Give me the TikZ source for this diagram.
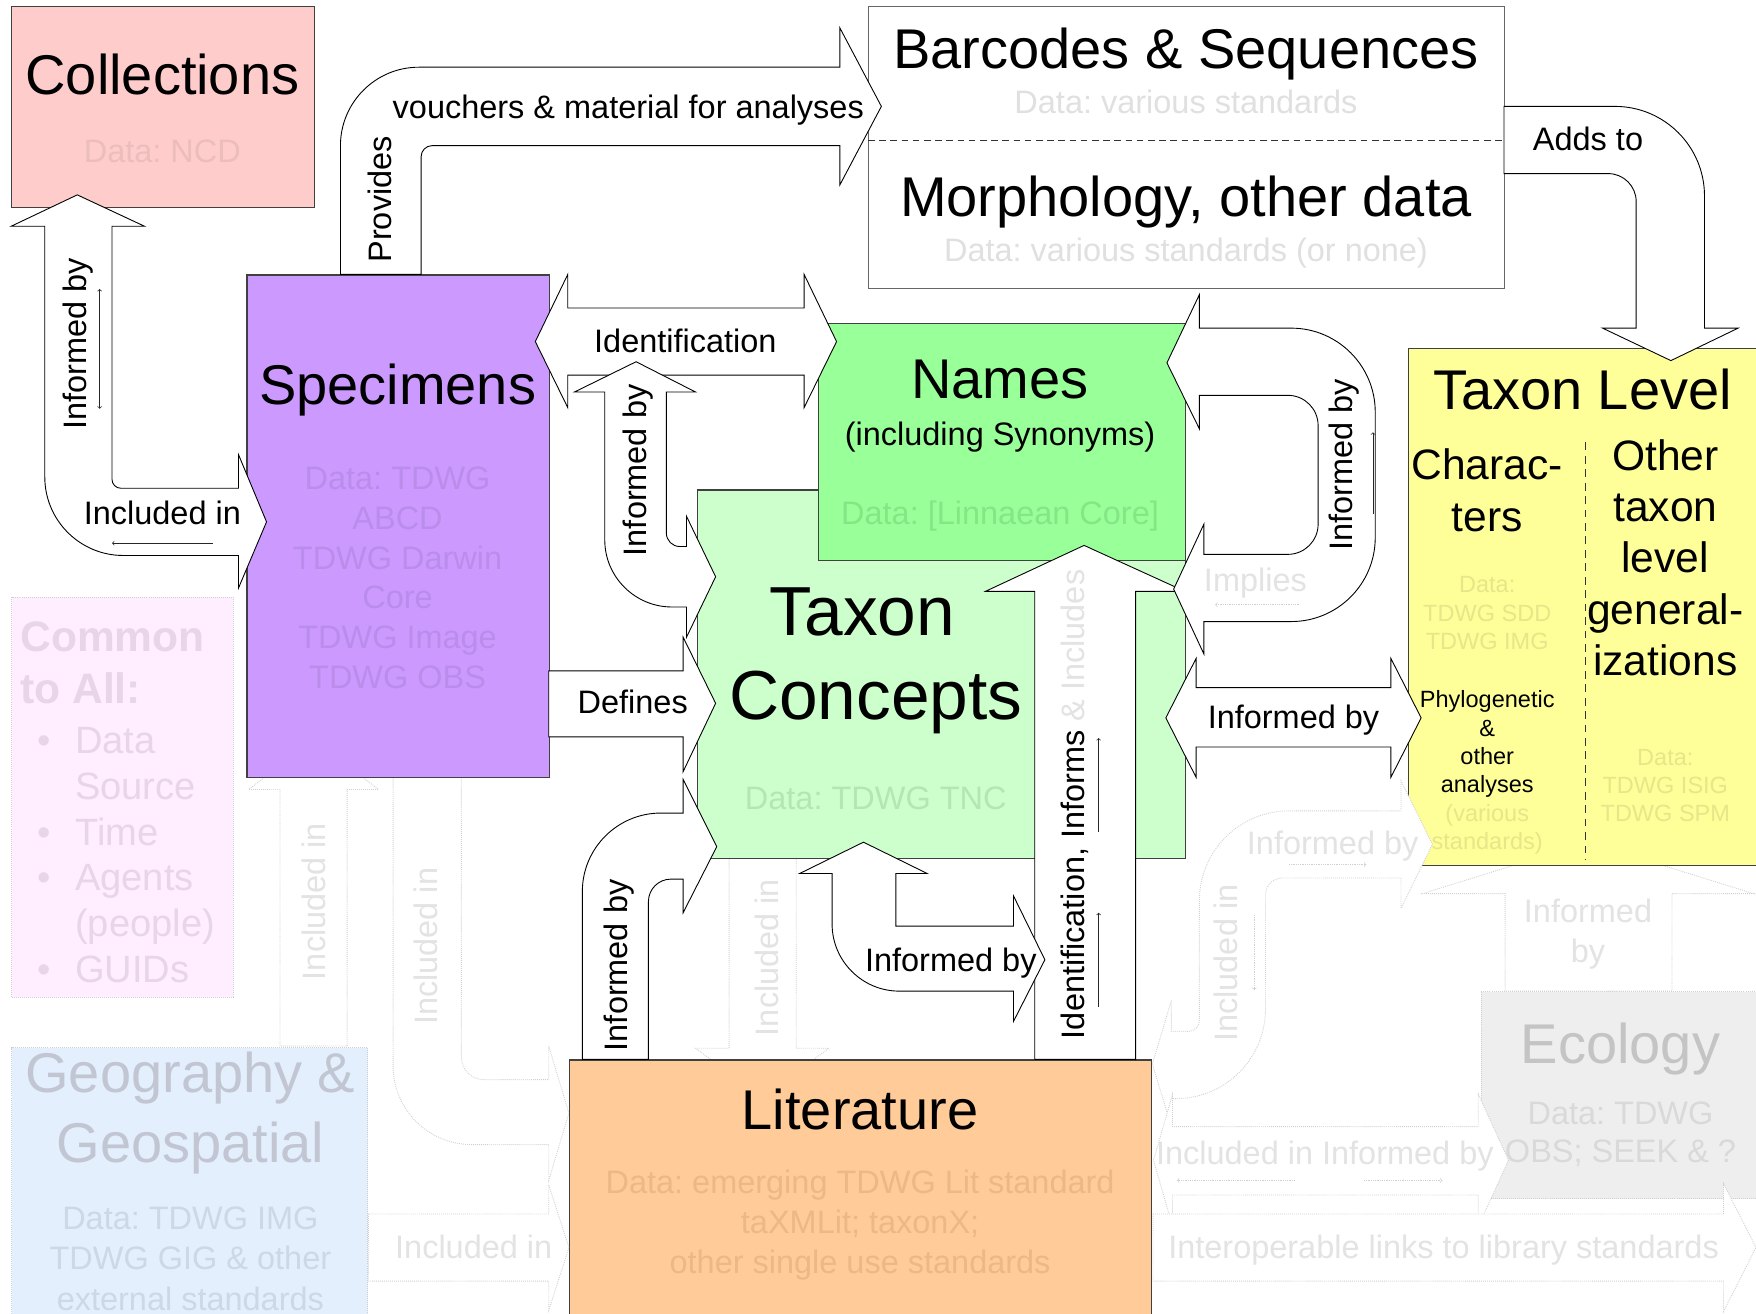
\documentclass[tikz,border=0pt]{standalone}
\usepackage{fontspec}
\setmainfont{Liberation Sans}
\usetikzlibrary{positioning}
\frenchspacing
\definecolor{collfill}{HTML}{FFCCCC}
\definecolor{colldata}{HTML}{EBBDBD}
\definecolor{specfill}{HTML}{CC99FF}
\definecolor{specdata}{HTML}{BB8DEB}
\definecolor{namesfill}{HTML}{99FF99}
\definecolor{namesdata}{HTML}{85E685}
\definecolor{conceptfill}{HTML}{CCFFCC}
\definecolor{conceptdata}{HTML}{B3E6B3}
\definecolor{levelfill}{HTML}{FFFF99}
\definecolor{leveldata}{HTML}{E6E68A}
\definecolor{litfill}{HTML}{FFCC99}
\definecolor{litdata}{HTML}{EBB886}
\definecolor{plaindata}{HTML}{E0E0E0}
\definecolor{commonfill}{HTML}{FFEEFF}
\definecolor{commontext}{HTML}{E8D5E8}
\definecolor{geofill}{HTML}{E3EFFD}
\definecolor{geotitle}{HTML}{C2C6D2}
\definecolor{geodata}{HTML}{CDD8E6}
\definecolor{ecofill}{HTML}{EEEEEE}
\definecolor{ecotitle}{HTML}{C4C4C4}
\definecolor{ecodata}{HTML}{D9D9D9}
\definecolor{ghosttext}{HTML}{E3E3E3}
\definecolor{ghostline}{HTML}{D0D0D0}
\tikzset{%
  box/.style = {draw=black!75, line width=1pt, inner sep=0pt, anchor=north west},
  ghostbox/.style = {draw=ghostline, densely dotted, line width=0.8pt,
        inner sep=0pt, anchor=north west},
  fat/.style = {draw=black, fill=white, line width=0.8pt},
  ghost/.style = {draw=ghostline, fill=white, densely dotted, line width=0.8pt},
  bigtext/.style = {font=\fontsize{50}{60}\selectfont, inner sep=0pt, anchor=base},
  midtext/.style = {font=\fontsize{29}{36}\selectfont, inner sep=0pt, anchor=base},
  smalltext/.style = {font=\fontsize{21}{25.3}\selectfont, inner sep=0pt, align=center},
  thinarrow/.style = {->, line width=0.6pt, black!85},
  ghostthin/.style = {->, line width=0.6pt, ghostline, densely dotted}
}
\begin{document}
\begin{tikzpicture}[x=1pt, y=-1pt]
\useasboundingbox (0,0) rectangle (1568,1173);
\clip (0,0) rectangle (1568,1173);

% faded boxes
\node[ghostbox, fill=commonfill, minimum width=198pt, minimum height=357pt] (common) at (10,533) {};
\node[ghostbox, fill=geofill, minimum width=318pt, minimum height=250pt] (geo) at (10,935) {};
\node[ghostbox, fill=ecofill, minimum width=260pt, minimum height=185pt] (eco) at (1322,885) {};
\node[font=\bfseries\fontsize{38}{46}\selectfont, text=commontext, align=left,
      anchor=north west, inner sep=0pt] (common-head) at (18,555) {Common\\to All:};
\node[font=\fontsize{34}{41}\selectfont, text=commontext, align=left,
      anchor=north west, inner sep=0pt] (common-list) at (33,649)
  {\makebox[34pt][l]{\textbullet}Data\\\hspace*{34pt}Source\\
   \makebox[34pt][l]{\textbullet}Time\\\makebox[34pt][l]{\textbullet}Agents\\
   \hspace*{34pt}(people)\\\makebox[34pt][l]{\textbullet}GUIDs};
\node[font=\fontsize{50}{62}\selectfont, text=geotitle, align=center, inner sep=0pt]
  (geo-title) at (170,994) {Geography \&\\Geospatial};
\node[font=\fontsize{29}{36}\selectfont, text=geodata, align=center, inner sep=0pt]
  (geo-data) at (170,1124) {Data: TDWG IMG\\TDWG GIG \& other\\external standards};
\node[bigtext, text=ecotitle] (eco-title) at (1447,950) {Ecology};
\node[font=\fontsize{29}{34}\selectfont, text=ecodata, align=center, inner sep=0pt]
  (eco-data) at (1447,1013) {Data: TDWG\\OBS; SEEK \& ?};

% faded arrows behind the boxes
\draw[ghost] (280,660) -- (338,705) -- (310,705) -- (310,934) -- (250,934) -- (250,705) -- (222,705) -- cycle;
\draw[ghost] (351,680) -- (351,952) .. controls (351,990.6) and (382.4,1022) .. (421,1022)
  -- (490,1022) -- (490,1054) -- (508,994) -- (490,934) -- (490,964) -- (432,964)
  .. controls (421,964) and (412,955) .. (412,944) -- (412,680) -- cycle;
\draw[ghost] (651,766) -- (711,766) -- (711,936) -- (740,936) -- (681,980) -- (621,936) -- (651,936) -- cycle;
\draw[ghost] (1418,752) -- (1566,798) -- (1493,798) -- (1493,885) -- (1344,885) -- (1344,798) -- (1270,798) -- cycle;

% boxes
\node[box, fill=collfill, minimum width=270pt, minimum height=180pt] (coll) at (10,5) {};
\node[box, fill=white, draw=black!60, minimum width=568pt, minimum height=252pt] (barcode) at (775,5) {};
\node[box, fill=specfill, minimum width=270pt, minimum height=449pt] (spec) at (220,245) {};
\node[box, fill=conceptfill, minimum width=436pt, minimum height=329pt] (concept) at (622,437) {};
\node[box, fill=namesfill, minimum width=328pt, minimum height=212pt] (names) at (730,288) {};
\node[box, fill=levelfill, minimum width=320pt, minimum height=461pt] (level) at (1257,311) {};
\node[box, fill=litfill, minimum width=520pt, minimum height=240pt] (lit) at (508,946) {};
\draw[black!80, line width=0.8pt, dash pattern=on 6pt off 4pt] (775,125) -- (1343,125);
\draw[black!80, line width=0.8pt, dash pattern=on 7pt off 5pt] (1416,395) -- (1416,768);

% faded arrows on top
\draw[ghost] (329,1084) -- (490,1084) -- (490,1058) -- (508,1114) -- (490,1170) -- (490,1144) -- (329,1144) -- cycle;
\draw[ghost] (1279,754) -- (1251,697) -- (1251,724) -- (1151,724)
  .. controls (1106.8,724) and (1071,759.8) .. (1071,804) -- (1071,911)
  .. controls (1071,916.5) and (1066.5,921) .. (1061,921) -- (1046,921) -- (1046,893)
  -- (1029,950) -- (1046,1006) -- (1046,981) -- (1050,981)
  .. controls (1094.2,981) and (1130,945.2) .. (1130,901) -- (1130,799)
  .. controls (1130,790.7) and (1136.7,784) .. (1145,784) -- (1251,784) -- (1251,811) -- cycle;
\draw[ghost] (1030,1036) -- (1047,977) -- (1047,1006) -- (1320,1006) -- (1320,977) -- (1347,1036)
  -- (1320,1095) -- (1320,1067) -- (1047,1067) -- (1047,1095) -- cycle;
\draw[ghost] (1029.5,1084) -- (1539,1084) -- (1539,1057) -- (1568,1114) -- (1539,1171) -- (1539,1144) -- (1029.5,1144) -- cycle;
\draw[ghostthin] (1151,772) -- (1220,772);
\draw[ghostthin] (1120,817) -- (1120,884);
\draw[ghostthin] (1156,1054) -- (1051,1054);
\draw[ghostthin] (1218,1054) -- (1288,1054);

% arrows
\draw[fat] (304,245) -- (304,130) .. controls (304,91.4) and (335.4,60) .. (374,60) -- (750,60)
  -- (750,25) -- (787,95) -- (750,165) -- (750,130) -- (386,130)
  .. controls (380.5,130) and (376,134.5) .. (376,140) -- (376,245) -- cycle;
\draw[fat] (1343,95) -- (1442,95) .. controls (1486.2,95) and (1522,130.8) .. (1522,175)
  -- (1522,293) -- (1552,293) -- (1492,322) -- (1431,293) -- (1461,293) -- (1461,180)
  .. controls (1461,166.2) and (1449.8,155) .. (1436,155) -- (1343,155) -- cycle;
\draw[fat] (69,174) -- (129,202) -- (100,202) -- (100,428) .. controls (100,432.4) and (103.6,436) .. (108,436)
  -- (213,436) -- (213,406) -- (238,466) -- (213,525) -- (213,496) -- (110,496)
  .. controls (71.4,496) and (40,464.6) .. (40,426) -- (40,202) -- (10,202) -- cycle;
\draw[fat] (478,305) -- (507,245) -- (507,275) -- (718,275) -- (718,245) -- (747,305)
  -- (718,364) -- (718,335) -- (507,335) -- (507,364) -- cycle;
\draw[fat] (568,323) -- (621,350) -- (595,350) -- (595,476) .. controls (595,482.6) and (600.4,488) .. (607,488)
  -- (613,488) -- (613,461) -- (639,515) -- (613,569) -- (613,542) -- (600,542)
  .. controls (566.9,542) and (540,515.1) .. (540,482) -- (540,350) -- (513,350) -- cycle;
\draw[fat] (490,599) -- (610,599) -- (610,569) -- (639,628) -- (610,689) -- (610,658) -- (490,658) -- cycle;
\draw[fat] (520,946) -- (520,796) .. controls (520,757.4) and (551.4,726) .. (590,726) -- (610,726)
  -- (610,696) -- (640,756) -- (610,815) -- (610,785) -- (599,785)
  .. controls (588,785) and (579,794) .. (579,805) -- (579,946) -- cycle;
\draw[fat] (968,487) -- (1058,528) -- (1014,528) -- (1014,946) -- (924,946) -- (924,528) -- (880,528) -- cycle;
\draw[fat] (771,752) -- (828,780) -- (800,780) -- (800,827) -- (905,827) -- (905,800) -- (933,857)
  -- (905,912) -- (905,885) -- (803,885) .. controls (769.9,885) and (743,858.1) .. (743,825)
  -- (743,780) -- (714,780) -- cycle;
\draw[fat] (1042,324) -- (1071,263) -- (1071,293) -- (1153,293)
  .. controls (1194.4,293) and (1228,326.6) .. (1228,368) -- (1228,480)
  .. controls (1228,521.4) and (1194.4,555) .. (1153,555) -- (1075,555) -- (1075,584)
  -- (1048,526) -- (1075,468) -- (1075,495) -- (1150,495)
  .. controls (1164.9,495) and (1177,482.9) .. (1177,468) -- (1177,380)
  .. controls (1177,365.1) and (1164.9,353) .. (1150,353) -- (1071,353) -- (1071,383) -- cycle;
\draw[fat] (1041,641) -- (1068,588) -- (1068,614) -- (1242,614) -- (1242,588) -- (1269,641)
  -- (1242,694) -- (1242,667) -- (1068,667) -- (1068,694) -- cycle;
\draw[thinarrow, <->] (89,258) -- (89,365);
\draw[thinarrow] (190,485) -- (100,485);
\draw[thinarrow] (1226,459) -- (1226,386);
\draw[thinarrow] (981,743) -- (981,659);
\draw[thinarrow] (981,899) -- (981,815);
\draw[ghostthin] (1160,540) -- (1085,540);

% box texts
\node[bigtext] (coll-title) at (145,84) {Collections};
\node[midtext, text=colldata] (coll-data) at (145,145.4) {Data: NCD};
\node[bigtext] (barcode-title) at (1059,61) {Barcodes \& Sequences};
\node[midtext, text=plaindata] (barcode-data) at (1059,101.4) {Data: various standards};
\node[bigtext] (morph-title) at (1059,193) {Morphology, other data};
\node[midtext, text=plaindata] (morph-data) at (1059,233.4) {Data: various standards (or none)};
\node[bigtext] (spec-title) at (355,361) {Specimens};
\node[font=\fontsize{29}{35.6}\selectfont, text=specdata, align=center, inner sep=0pt]
  (spec-data) at (355,516) {Data: TDWG\\ABCD\\TDWG Darwin\\Core\\TDWG Image\\TDWG OBS};
\node[bigtext] (names-title) at (893,356) {Names};
\node[midtext] (names-sub) at (893,397.4) {(including Synonyms)};
\node[midtext, text=namesdata] (names-data) at (893,468.4) {Data: [Linnaean Core]};
\node[font=\fontsize{62}{75}\selectfont, inner sep=0pt, anchor=base] (concept-title) at (770,567.3) {Taxon};
\node[font=\fontsize{62}{75}\selectfont, inner sep=0pt, anchor=base] (concept-title2) at (782,642.3) {Concepts};
\node[midtext, text=conceptdata] (concept-data) at (782,722.4) {Data: TDWG TNC};
\node[bigtext] (level-title) at (1413,366) {Taxon Level};
\node[font=\fontsize{38}{46}\selectfont, align=center, inner sep=0pt] (level-char) at (1328,438) {Charac-\\ters};
\node[font=\fontsize{38}{45.75}\selectfont, align=center, inner sep=0pt] (level-other) at (1487,498)
  {Other\\taxon\\level\\general-\\izations};
\node[smalltext, text=leveldata] (level-data1) at (1328,547.5) {Data:\\TDWG SDD\\TDWG IMG};
\node[smalltext] (level-phylo) at (1328,690)
  {Phylogenetic\\\&\\other\\analyses\\\textcolor{leveldata}{(various}\\\textcolor{leveldata}{standards)}};
\node[smalltext, text=leveldata] (level-data2) at (1487,701.5) {Data:\\TDWG ISIG\\TDWG SPM};
\node[bigtext] (lit-title) at (768,1009) {Literature};
\node[font=\fontsize{29}{36}\selectfont, text=litdata, align=center, inner sep=0pt]
  (lit-data) at (768,1094) {Data: emerging TDWG Lit standard\\taXMLit; taxonX;\\other single use standards};

% arrow labels
\node[midtext] (voucher-label) at (561,105.4) {vouchers \& material for analyses};
\node[midtext, rotate=90] (provides-label) at (349.4,178) {Provides};
\node[midtext] (adds-label) at (1418,134.4) {Adds to};
\node[midtext, rotate=90] (coll-informed) at (77.4,307) {Informed by};
\node[midtext] (coll-included) at (145,468.4) {Included in};
\node[midtext] (ident-label) at (612,314.4) {Identification};
\node[midtext, rotate=90] (spec-informed) at (577.4,420) {Informed by};
\node[midtext] (defines-label) at (565,637.4) {Defines};
\node[midtext, rotate=90] (lit-informed) at (560.4,862) {Informed by};
\node[midtext] (concept-informed) at (849,867.4) {Informed by};
\node[midtext, rotate=90, anchor=base west] (names-ident) at (968.4,928)
  {Identification, Informs \textcolor{ghosttext}{\& Includes}};
\node[midtext, rotate=90] (names-informed) at (1207.4,415) {Informed by};
\node[midtext, text=ghosttext] (implies-label) at (1121,528.4) {Implies};
\node[midtext] (level-informed) at (1155,650.4) {Informed by};

% faded labels
\node[midtext, rotate=90, text=ghosttext] (geo-included1) at (290.4,805) {Included in};
\node[midtext, rotate=90, text=ghosttext] (geo-included2) at (390.4,845) {Included in};
\node[midtext, rotate=90, text=ghosttext] (lit-included) at (695.4,855) {Included in};
\node[midtext, rotate=90, text=ghosttext] (eco-included) at (1105.4,860) {Included in};
\node[midtext, text=ghosttext] (geo-included3) at (423,1123.4) {Included in};
\node[midtext, text=ghosttext] (eco-informed) at (1190,763.4) {Informed by};
\node[font=\fontsize{29}{36}\selectfont, text=ghosttext, align=center, inner sep=0pt]
  (level-eco) at (1418,834) {Informed\\by};
\node[midtext, text=ghosttext] (eco-lit) at (1183,1039.4) {Included in Informed by};
\node[midtext, text=ghosttext] (library-label) at (1289,1123.4) {Interoperable links to library standards};
\end{tikzpicture}
\end{document}
